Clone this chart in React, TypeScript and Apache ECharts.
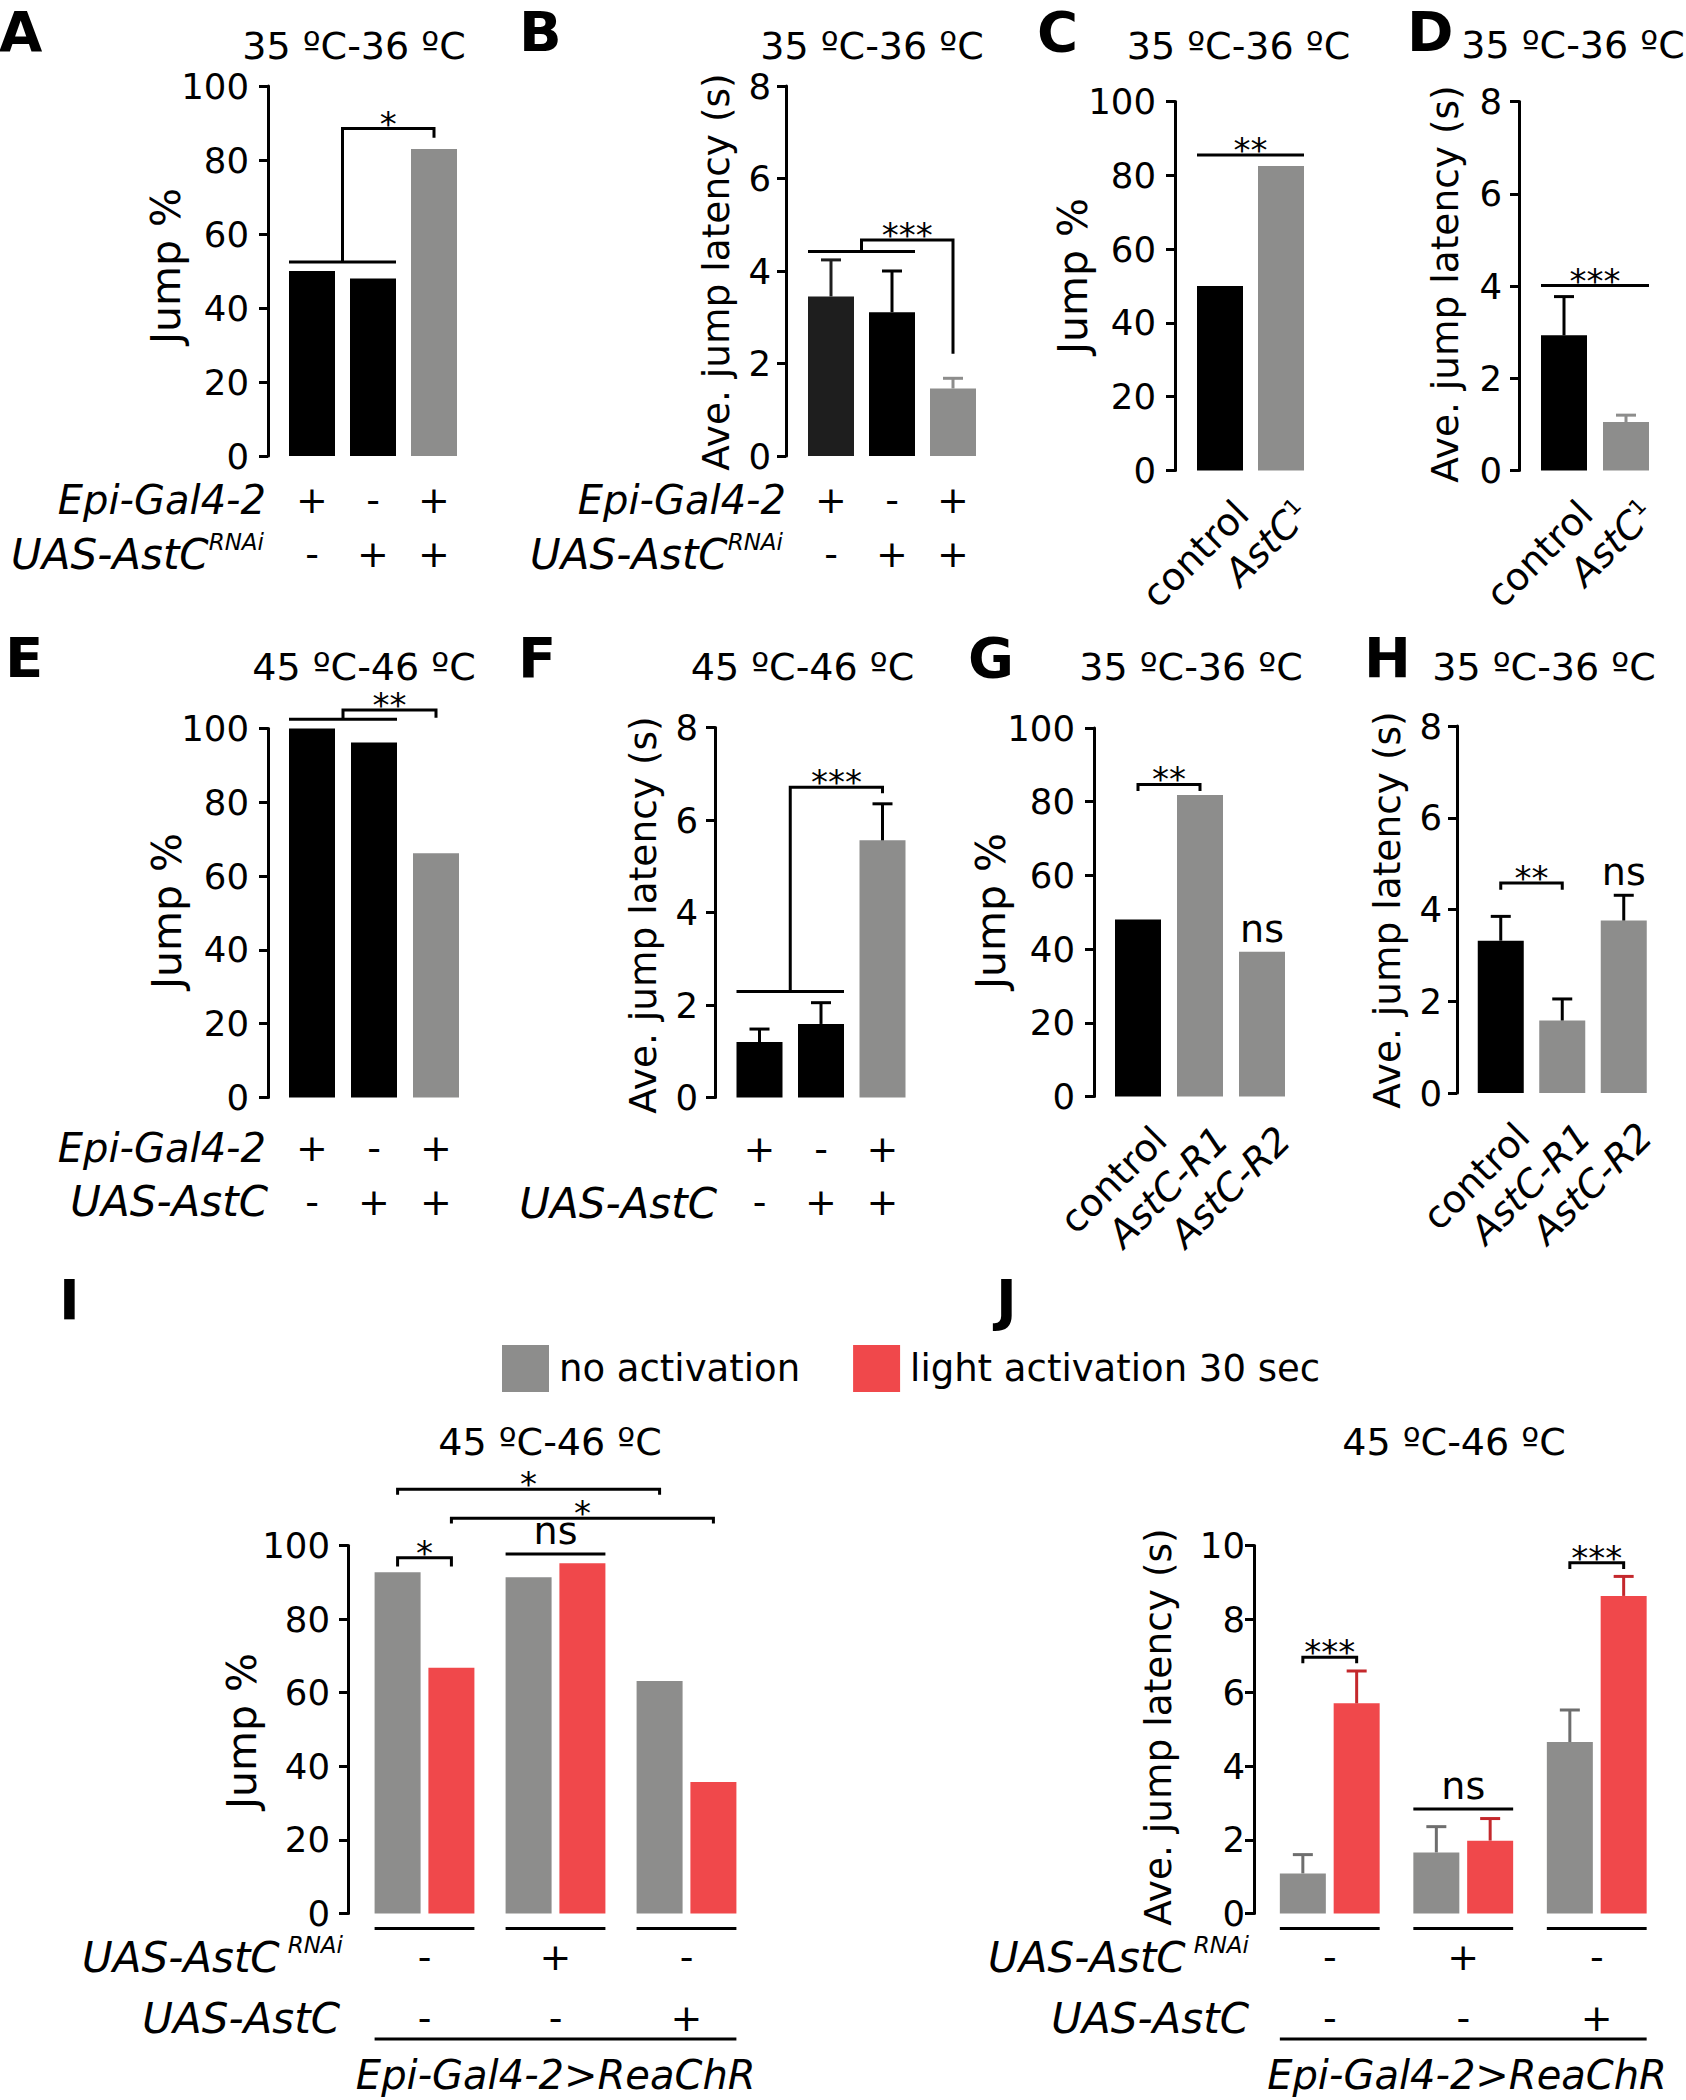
import React, { useEffect, useRef } from "react";
import * as echarts from "echarts";

const FONT = "DejaVu Sans";
const INK = "#000000";
const DARK = "#1e1e1e";
const GRAY = "#8d8d8c";
const RED = "#f0484b";
const GRAY_ERR = "#6e6e6e";
const RED_ERR = "#c4282c";

// ---------------- data ----------------
const signsEpiA = ["+", "-", "+"];
const signsRnaiA = ["-", "+", "+"];
const jumpA = [50, 48, 83];

const signsEpiB = ["+", "-", "+"];
const signsRnaiB = ["-", "+", "+"];
const latencyB = [3.45, 3.11, 1.46];
const semB = [0.79, 0.89, 0.22];

const genotypesCD = ["control", "AstC1"];
const jumpC = [50, 82.5];
const latencyD = [2.93, 1.05];
const semD = [0.84, 0.15];

const signsEpiEF = ["+", "-", "+"];
const signsAstcEF = ["-", "+", "+"];
const jumpE = [100, 96.2, 66.2];
const latencyF = [1.2, 1.59, 5.56];
const semF = [0.28, 0.46, 0.79];

const genotypesGH = ["control", "AstC-R1", "AstC-R2"];
const jumpG = [48, 81.8, 39.3];
const latencyH = [3.32, 1.58, 3.76];
const semH = [0.53, 0.47, 0.55];

const signsRnaiIJ = ["-", "+", "-"];
const signsAstcIJ = ["-", "-", "+"];
const seriesNames = ["no activation", "light activation 30 sec"];
const jumpINoAct = [92.7, 91.4, 63.2];
const jumpILight = [66.8, 95.2, 35.7];
const latencyJNoAct = [1.09, 1.66, 4.66];
const semJNoAct = [0.51, 0.7, 0.87];
const latencyJLight = [5.71, 1.98, 8.63];
const semJLight = [0.88, 0.6, 0.53];

const jumpScale = { max: 100, interval: 20 };
const latScale = { max: 8, interval: 2 };
const latScaleJ = { max: 10, interval: 2 };

// significance annotations (category index or [group, series], y in data units)
const sigA = [{ kind: "join", a: 0, b: 1, c: 2, yLow: 52.4, yTop: 88.5, yDrop: 86, text: "*" }];
const sigB = [{ kind: "join", a: 0, b: 1, c: 2, yLow: 4.42, yTop: 4.67, yDrop: 2.21, text: "***" }];
const sigC = [{ kind: "line", a: 0, b: 1, y: 85.5, text: "**" }];
const sigD = [{ kind: "line", a: 0, b: 1, y: 4.01, text: "***" }];
const sigE = [{ kind: "join", a: 0, b: 1, c: 2, yLow: 102.5, yTop: 105, yDrop: 102.9, text: "**" }];
const sigF = [{ kind: "join", a: 0, b: 1, c: 2, yLow: 2.29, yTop: 6.71, yDrop: 6.58, text: "***" }];
const sigG = [
  { kind: "bracket", a: 0, b: 1, y: 84.7, drop: 82.9, text: "**" },
  { kind: "label", a: 2, y: 39.3, text: "ns" },
];
const sigH = [
  { kind: "bracket", a: 0, b: 1, y: 4.58, drop: 4.43, text: "**" },
  { kind: "label", a: 2, y: 4.31, text: "ns" },
];
const sigI = [
  { kind: "bracket", a: [0, 0], b: [0, 1], y: 96.65, drop: 94.3, text: "*" },
  { kind: "line", a: [1, 0], b: [1, 1], y: 97.7, text: "ns" },
  { kind: "bracket", a: [0, 0], b: [2, 0], y: 115.3, drop: 113.8, text: "*" },
  { kind: "bracket", a: [0, 1], b: [2, 1], y: 107.4, drop: 106, text: "*" },
];
const sigJ = [
  { kind: "bracket", a: [0, 0], b: [0, 1], y: 6.96, drop: 6.8, text: "***" },
  { kind: "line", a: [1, 0], b: [1, 1], y: 2.84, text: "ns" },
  { kind: "bracket", a: [2, 0], b: [2, 1], y: 9.53, drop: 9.36, text: "***" },
];

// ---------------- layout / style ----------------
const BAR_W = 46;
const HALF = BAR_W / 2;
const BAR_GAP = 0.17;
const SUB = (BAR_W * 2 + BAR_W * BAR_GAP) / 2 - HALF;
const LW = 3;

const grids = [
  { left: 281.5, top: 86, width: 183, height: 370 }, // A
  { left: 800.5, top: 86, width: 183, height: 370 }, // B
  { left: 1189.5, top: 101.5, width: 122, height: 369 }, // C
  { left: 1533, top: 101.5, width: 124, height: 369 }, // D
  { left: 281, top: 728.5, width: 186, height: 369 }, // E
  { left: 728.75, top: 727.5, width: 184.5, height: 370 }, // F
  { left: 1107, top: 728, width: 186, height: 368.5 }, // G
  { left: 1470, top: 726, width: 184.5, height: 367 }, // H
  { left: 359, top: 1545.5, width: 393, height: 368 }, // I
  { left: 1263, top: 1545.5, width: 400.5, height: 368 }, // J
];
const yOffsets = [13.5, 14.5, 14.5, 14, 13, 13.75, 13, 13, 11, 9];
const yLabelMargins = [19, 15, 19, 17, 19, 17, 19, 15, 18, 9];

function yAxisCfg(k: number, scale: { max: number; interval: number }) {
  return {
    type: "value",
    gridIndex: k,
    min: 0,
    max: scale.max,
    interval: scale.interval,
    offset: yOffsets[k],
    axisLine: { show: true, onZero: false, lineStyle: { color: INK, width: LW } },
    axisTick: { show: true, inside: false, length: 9, lineStyle: { color: INK, width: LW } },
    axisLabel: { show: true, fontSize: 35.5, fontFamily: FONT, color: INK, margin: yLabelMargins[k] },
    splitLine: { show: false },
    splitArea: { show: false },
  };
}

function signAxis(k: number, row1: string[], row2: string[], margin: number, lh: number) {
  return {
    type: "category",
    gridIndex: k,
    data: row1.map((s, i) => `${s}/${row2[i]}`),
    axisLine: { show: false },
    axisTick: { show: false },
    splitLine: { show: false },
    axisLabel: {
      interval: 0,
      fontSize: 38,
      fontFamily: FONT,
      color: INK,
      lineHeight: lh,
      margin,
      formatter: (_v: string, i: number) => `${row1[i]}\n${row2[i]}`,
    },
  };
}

function rotAxis(k: number, cats: string[]) {
  return {
    type: "category",
    gridIndex: k,
    data: cats,
    axisLine: { show: false },
    axisTick: { show: false },
    splitLine: { show: false },
    axisLabel: {
      interval: 0,
      rotate: 45,
      margin: 15,
      verticalAlign: "top",
      padding: [12, 0, 0, 0],
      fontSize: 38,
      fontFamily: FONT,
      color: INK,
      formatter: (v: string) => {
        if (v === "AstC1") return "{i|AstC}{s|1}";
        if (v.startsWith("AstC")) return `{i|${v}}`;
        return v;
      },
      rich: {
        i: { fontStyle: "italic", fontSize: 38, fontFamily: FONT, color: INK },
        s: { fontSize: 22, fontFamily: FONT, color: INK, verticalAlign: "top", lineHeight: 22 },
      },
    },
  };
}

function barSeries(k: number, values: number[], colors: string[], name?: string) {
  return {
    type: "bar",
    name,
    xAxisIndex: k,
    yAxisIndex: k,
    barWidth: BAR_W,
    barGap: `${BAR_GAP * 100}%`,
    silent: true,
    z: 2,
    itemStyle: { color: colors[0] },
    data: values.map((v, i) => ({ value: v, itemStyle: { color: colors[i] } })),
  };
}

function errSeries(k: number, means: number[], sems: number[], colors: string[], shift = 0) {
  return {
    type: "custom",
    xAxisIndex: k,
    yAxisIndex: k,
    silent: true,
    clip: false,
    z: 3,
    data: means.map((m, i) => [i, m, sems[i]]),
    renderItem: (p: any, api: any) => {
      const i = api.value(0);
      const m = api.value(1);
      const e = api.value(2);
      const b = api.coord([i, m]);
      const t = api.coord([i, m + e]);
      const x = b[0] + shift;
      const c = colors[p.dataIndex];
      return {
        type: "group",
        children: [
          { type: "line", shape: { x1: x, y1: b[1], x2: x, y2: t[1] }, style: { stroke: c, lineWidth: LW } },
          { type: "line", shape: { x1: x - 10, y1: t[1], x2: x + 10, y2: t[1] }, style: { stroke: c, lineWidth: LW } },
        ],
      };
    },
  };
}

function annSeries(k: number, anns: any[], grouped = false) {
  return {
    type: "custom",
    xAxisIndex: k,
    yAxisIndex: k,
    silent: true,
    clip: false,
    z: 5,
    data: [[0, 0]],
    renderItem: (_p: any, api: any) => {
      const cx = (r: any) =>
        Array.isArray(r) ? api.coord([r[0], 0])[0] + (r[1] === 0 ? -SUB : SUB) : api.coord([r, 0])[0];
      const py = (v: number) => api.coord([0, v])[1];
      const children: any[] = [];
      const line = (pts: number[][]) =>
        children.push({ type: "polyline", shape: { points: pts }, style: { stroke: INK, lineWidth: LW, fill: "none" } });
      const label = (x: number, y: number, text: string) => {
        const star = text.charAt(0) === "*";
        children.push({
          type: "text",
          x,
          y: star ? y - 5 : y - 23,
          style: {
            text,
            fontSize: star ? 34 : 38,
            fontFamily: FONT,
            fill: INK,
            textAlign: "center",
            textVerticalAlign: "middle",
          },
        });
      };
      for (const a of anns) {
        if (a.kind === "join") {
          const xl = cx(a.a) - HALF;
          const xr = cx(a.b) + HALF;
          const xm = (xl + xr) / 2;
          const xc = cx(a.c);
          line([[xl, py(a.yLow)], [xr, py(a.yLow)]]);
          line([[xm, py(a.yLow)], [xm, py(a.yTop)], [xc, py(a.yTop)], [xc, py(a.yDrop)]]);
          label((xm + xc) / 2, py(a.yTop), a.text);
        } else if (a.kind === "bracket") {
          const x1 = cx(a.a);
          const x2 = cx(a.b);
          line([[x1, py(a.drop)], [x1, py(a.y)], [x2, py(a.y)], [x2, py(a.drop)]]);
          label((x1 + x2) / 2, py(a.y), a.text);
        } else if (a.kind === "line") {
          const xl = cx(a.a) - HALF;
          const xr = cx(a.b) + HALF;
          line([[xl, py(a.y)], [xr, py(a.y)]]);
          label((xl + xr) / 2, py(a.y), a.text);
        } else if (a.kind === "label") {
          label(cx(a.a), py(a.y), a.text);
        }
      }
      if (grouped) {
        const y0 = py(0);
        for (let g = 0; g < 3; g++) {
          line([[cx([g, 0]) - HALF, y0 + 15], [cx([g, 1]) + HALF, y0 + 15]]);
        }
        line([[cx([0, 0]) - HALF, y0 + 125.5], [cx([2, 1]) + HALF, y0 + 125.5]]);
      }
      return { type: "group", children };
    },
  };
}

// ---------------- text elements ----------------
function txt(x: number, y: number, text: string, size: number, extra: any = {}, align = "center") {
  return {
    type: "text",
    x,
    y,
    silent: true,
    style: {
      text,
      fontSize: size,
      fontFamily: FONT,
      fill: INK,
      textAlign: align,
      textVerticalAlign: "middle",
      ...extra,
    },
  };
}
function letter(x: number, y: number, t: string) {
  return txt(x, y, t, 56, { fontWeight: "bold" }, "left");
}
function yName(x: number, y: number, t: string, size = 37.5) {
  return { ...txt(x, y, t, size), rotation: Math.PI / 2 };
}
const richRow = {
  e: { fontStyle: "italic", fontSize: 40, fontFamily: FONT, color: INK, lineHeight: 46 },
  i: { fontStyle: "italic", fontSize: 42, fontFamily: FONT, color: INK, lineHeight: 48 },
  s: { fontStyle: "italic", fontSize: 23, fontFamily: FONT, color: INK, verticalAlign: "top", lineHeight: 23 },
  sp: { fontStyle: "italic", fontSize: 23, fontFamily: FONT, color: INK, verticalAlign: "top", lineHeight: 23, padding: [0, 0, 0, 8] },
};
function rowLabel(x: number, y: number, t: string) {
  return txt(x, y, t, 40, { rich: richRow, fontStyle: "italic" }, "right");
}

const TITLE_35 = "35 \u00baC-36 \u00baC";
const TITLE_45 = "45 \u00baC-46 \u00baC";
const JUMP = "Jump %";
const LAT = "Ave. jump latency (s)";

const graphicEls = [
  letter(-1, 31, "A"),
  letter(519, 31, "B"),
  letter(1037, 31, "C"),
  letter(1407, 31, "D"),
  letter(5, 657, "E"),
  letter(518, 657, "F"),
  letter(968, 657, "G"),
  letter(1364, 657, "H"),
  letter(59, 1299, "I"),
  letter(996, 1299, "J"),
  txt(354, 46, TITLE_35, 38),
  txt(872, 46, TITLE_35, 38),
  txt(1238.5, 46, TITLE_35, 38),
  txt(1573, 45, TITLE_35, 38),
  txt(364, 667, TITLE_45, 38),
  txt(802.5, 667, TITLE_45, 38),
  txt(1191, 667, TITLE_35, 38),
  txt(1544, 667, TITLE_35, 38),
  txt(550, 1442, TITLE_45, 38),
  txt(1454, 1442, TITLE_45, 38),
  yName(166, 266, JUMP, 41),
  yName(716, 272, LAT),
  yName(1073, 276, JUMP, 41),
  yName(1445, 284, LAT),
  yName(167, 911, JUMP, 41),
  yName(643, 915, LAT),
  yName(991, 911, JUMP, 41),
  yName(1387, 910, LAT),
  yName(242, 1731, JUMP, 41),
  yName(1158, 1727, LAT),
  rowLabel(266, 500, "{e|Epi-Gal4-2}"),
  rowLabel(264, 554, "{i|UAS-AstC}{s|RNAi}"),
  rowLabel(786, 500, "{e|Epi-Gal4-2}"),
  rowLabel(783, 554, "{i|UAS-AstC}{s|RNAi}"),
  rowLabel(266, 1148, "{e|Epi-Gal4-2}"),
  rowLabel(268, 1201, "{i|UAS-AstC}"),
  rowLabel(717, 1203, "{i|UAS-AstC}"),
  rowLabel(343, 1957, "{i|UAS-AstC}{sp|RNAi}"),
  rowLabel(340, 2018, "{i|UAS-AstC}"),
  rowLabel(1249, 1957, "{i|UAS-AstC}{sp|RNAi}"),
  rowLabel(1249, 2018, "{i|UAS-AstC}"),
  txt(555.7, 2075, "Epi-Gal4-2>ReaChR", 40, { fontStyle: "italic" }),
  txt(1467, 2075, "Epi-Gal4-2>ReaChR", 40, { fontStyle: "italic" }),
];

function buildOption() {
  return {
    animation: false,
    backgroundColor: "#ffffff",
    textStyle: { fontFamily: FONT },
    grid: grids.map((g) => ({ ...g, containLabel: false, outerBoundsMode: "none", show: false })),
    legend: {
      data: seriesNames.map((n) => ({ name: n, icon: "rect" })),
      left: 497,
      top: 1340,
      itemWidth: 47,
      itemHeight: 47,
      itemGap: 53,
      selectedMode: false,
      itemStyle: { borderWidth: 0 },
      textStyle: { fontSize: 37, fontFamily: FONT, color: INK, padding: [0, 0, 0, 5] },
    },
    xAxis: [
      signAxis(0, signsEpiA, signsRnaiA, 17, 54),
      signAxis(1, signsEpiB, signsRnaiB, 17, 54),
      rotAxis(2, genotypesCD),
      rotAxis(3, genotypesCD),
      signAxis(4, signsEpiEF, signsAstcEF, 23.75, 53.5),
      signAxis(5, signsEpiEF, signsAstcEF, 25, 53),
      rotAxis(6, genotypesGH),
      rotAxis(7, genotypesGH),
      signAxis(8, signsRnaiIJ, signsAstcIJ, 13, 61),
      signAxis(9, signsRnaiIJ, signsAstcIJ, 13, 61),
    ],
    yAxis: [
      yAxisCfg(0, jumpScale),
      yAxisCfg(1, latScale),
      yAxisCfg(2, jumpScale),
      yAxisCfg(3, latScale),
      yAxisCfg(4, jumpScale),
      yAxisCfg(5, latScale),
      yAxisCfg(6, jumpScale),
      yAxisCfg(7, latScale),
      yAxisCfg(8, jumpScale),
      yAxisCfg(9, latScaleJ),
    ],
    series: [
      barSeries(0, jumpA, [INK, INK, GRAY]),
      annSeries(0, sigA),
      barSeries(1, latencyB, [DARK, INK, GRAY]),
      errSeries(1, latencyB, semB, [DARK, INK, GRAY]),
      annSeries(1, sigB),
      barSeries(2, jumpC, [INK, GRAY]),
      annSeries(2, sigC),
      barSeries(3, latencyD, [INK, GRAY]),
      errSeries(3, latencyD, semD, [INK, GRAY]),
      annSeries(3, sigD),
      barSeries(4, jumpE, [INK, INK, GRAY]),
      annSeries(4, sigE),
      barSeries(5, latencyF, [INK, INK, GRAY]),
      errSeries(5, latencyF, semF, [INK, INK, INK]),
      annSeries(5, sigF),
      barSeries(6, jumpG, [INK, GRAY, GRAY]),
      annSeries(6, sigG),
      barSeries(7, latencyH, [INK, GRAY, GRAY]),
      errSeries(7, latencyH, semH, [INK, INK, INK]),
      annSeries(7, sigH),
      barSeries(8, jumpINoAct, [GRAY, GRAY, GRAY], seriesNames[0]),
      barSeries(8, jumpILight, [RED, RED, RED], seriesNames[1]),
      annSeries(8, sigI, true),
      barSeries(9, latencyJNoAct, [GRAY, GRAY, GRAY], seriesNames[0]),
      barSeries(9, latencyJLight, [RED, RED, RED], seriesNames[1]),
      errSeries(9, latencyJNoAct, semJNoAct, [GRAY_ERR, GRAY_ERR, GRAY_ERR], -SUB),
      errSeries(9, latencyJLight, semJLight, [RED_ERR, RED_ERR, RED_ERR], SUB),
      annSeries(9, sigJ, true),
    ],
    graphic: { elements: graphicEls },
  };
}

export default function App() {
  const ref = useRef<HTMLDivElement>(null);
  useEffect(() => {
    document.body.style.margin = "0";
    const chart = echarts.init(ref.current as HTMLDivElement, undefined, {
      renderer: "svg",
      width: 1686,
      height: 2100,
    });
    chart.setOption(buildOption() as any);
    return () => chart.dispose();
  }, []);
  return (
    <div
      ref={ref}
      style={{ position: "absolute", left: 0, top: 0, width: 1686, height: 2100, background: "#fff" }}
    />
  );
}
